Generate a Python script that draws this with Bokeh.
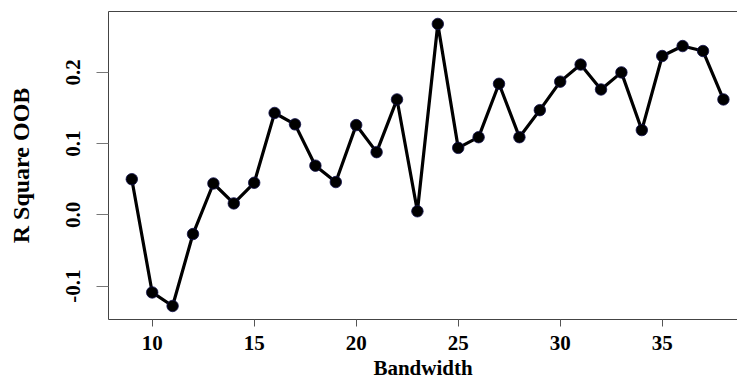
from bokeh.plotting import figure
from bokeh.models import Range1d, FixedTicker, NumeralTickFormatter, LinearAxis
from bokeh.embed import file_html
from bokeh.resources import INLINE

bandwidth = list(range(9, 39))
r2_oob = [0.050, -0.109, -0.128, -0.027, 0.044, 0.016, 0.045, 0.143, 0.127, 0.069,
          0.046, 0.126, 0.088, 0.162, 0.005, 0.268, 0.094, 0.109, 0.184, 0.109,
          0.147, 0.187, 0.211, 0.176, 0.200, 0.119, 0.223, 0.237, 0.230, 0.162]
x_ticks = [10, 15, 20, 25, 30, 35]
y_ticks = [-0.1, 0.0, 0.1, 0.2]

FONT = "Liberation Serif"

p = figure(width=737, height=383, output_backend="svg", toolbar_location=None,
           x_range=Range1d(7.858, 38.69), y_range=Range1d(-0.147, 0.2855),
           x_axis_label="Bandwidth", y_axis_label="R Square OOB")
p.min_border_left = 108
p.min_border_right = 0
p.min_border_top = 11
p.min_border_bottom = 64
p.outline_line_color = None
p.background_fill_color = "white"
p.border_fill_color = "white"
p.xgrid.visible = False
p.ygrid.visible = False

p.line(bandwidth, r2_oob, line_color="black", line_width=3.2)
p.scatter(bandwidth, r2_oob, size=11.5, fill_color="black", line_color="#10104a", line_width=0.8)

ax = p.xaxis[0]
ax.ticker = FixedTicker(ticks=x_ticks)
ax.minor_tick_line_color = None
ax.major_tick_out = 7
ax.major_tick_in = 0
ax.major_tick_line_color = "#555555"
ax.axis_line_color = "#444444"
ax.major_label_text_font = FONT
ax.major_label_text_font_style = "bold"
ax.major_label_text_font_size = "21px"
ax.major_label_text_color = "black"
ax.major_label_standoff = 9
ax.axis_label_text_font = FONT
ax.axis_label_text_font_style = "bold"
ax.axis_label_text_font_size = "21px"
ax.axis_label_text_color = "black"
ax.axis_label_standoff = 3

ay = p.yaxis[0]
ay.ticker = FixedTicker(ticks=y_ticks)
ay.formatter = NumeralTickFormatter(format="0.0")
ay.minor_tick_line_color = None
ay.major_tick_out = 12
ay.major_tick_in = 0
ay.major_tick_line_color = "#777777"
ay.axis_line_color = "#444444"
ay.major_label_orientation = "vertical"
ay.major_label_text_font = FONT
ay.major_label_text_font_style = "bold"
ay.major_label_text_font_size = "21px"
ay.major_label_text_color = "black"
ay.major_label_standoff = 16
ay.axis_label_text_font = FONT
ay.axis_label_text_font_style = "bold"
ay.axis_label_text_font_size = "24px"
ay.axis_label_text_color = "black"
ay.axis_label_standoff = 30

top = LinearAxis(ticker=FixedTicker(ticks=[]), major_label_text_font_size="0px",
                 major_tick_line_color=None, minor_tick_line_color=None,
                 axis_line_color="#444444")
p.add_layout(top, "above")

open("out.html", "w").write(file_html(p, INLINE))
